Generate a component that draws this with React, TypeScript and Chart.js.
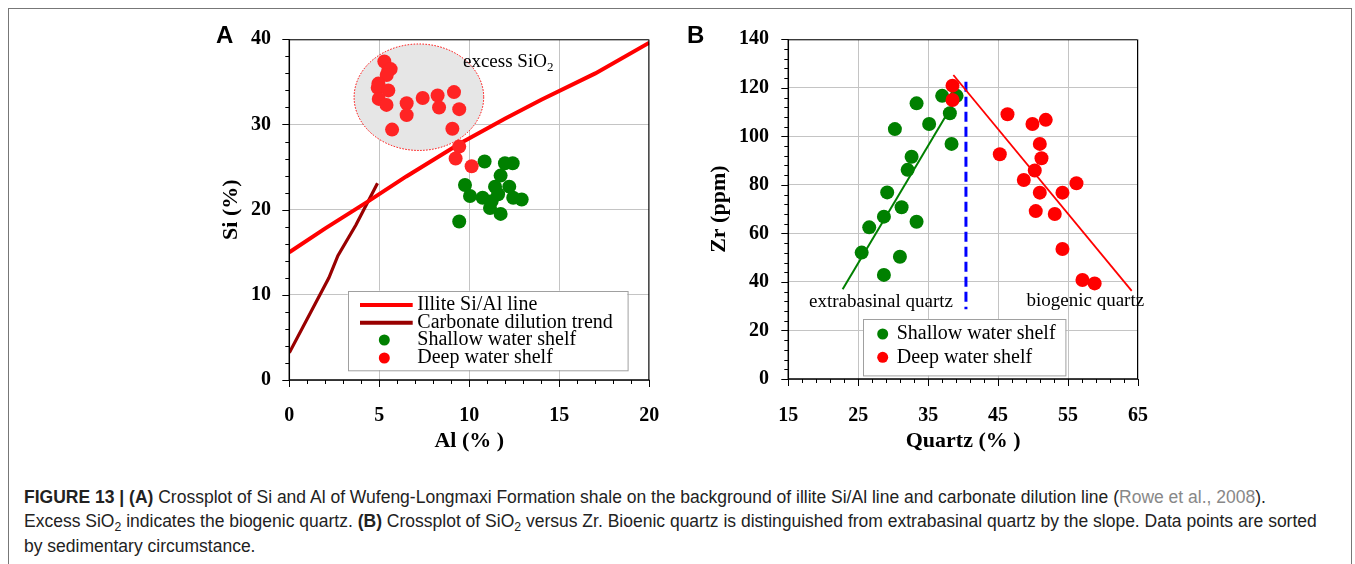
import React, { useEffect, useRef } from "react";
import { Chart, registerables } from "chart.js";
Chart.register(...registerables);

// ---------------- Panel A data (Al %, Si %) ----------------
const illiteAl = [0, 2, 4.4, 6.5, 9.5, 12, 14, 17, 20];
const illiteSi = [15.0, 17.8, 21.0, 23.9, 27.8, 30.7, 32.9, 36.0, 39.6];
const carbonateAl = [0, 2.2, 2.7, 3.7, 4.9];
const carbonateSi = [3.2, 12.0, 14.6, 18.2, 23.1];
const deepAlA = [5.28, 5.5, 5.63, 5.41, 4.95, 4.91, 5.5, 4.97, 5.4, 6.52, 6.52, 7.41, 8.24, 8.32, 9.15, 9.44, 5.71, 9.06, 9.44, 9.24, 10.13];
const deepSiA = [37.4, 36.4, 36.5, 35.8, 34.8, 34.3, 34.0, 33.0, 32.3, 32.5, 31.1, 33.1, 33.4, 32.0, 33.8, 31.8, 29.4, 29.5, 27.4, 26.0, 25.1];
const shallowAlA = [10.85, 11.98, 12.41, 11.74, 9.76, 11.43, 12.22, 10.04, 10.74, 11.24, 11.15, 12.44, 12.91, 11.74, 9.44, 11.6];
const shallowSiA = [25.65, 25.45, 25.45, 24.0, 22.9, 22.7, 22.7, 21.6, 21.4, 21.0, 20.2, 21.4, 21.2, 19.5, 18.6, 21.8];
const excessCenter = [7.2, 33.2]; // Al, Si
const excessRadius = [3.6, 6.25]; // Al, Si
const xTicksA = { min: 0, max: 20, step: 5, minor: 1 };
const yTicksA = { min: 0, max: 40, step: 10, minor: 2 };

// ---------------- Panel B data (Quartz %, Zr ppm) ----------------
const shallowQB = [25.49, 26.57, 28.67, 29.14, 30.96, 31.2, 32.06, 32.63, 33.34, 30.24, 33.34, 35.14, 37.0, 39.06, 38.1, 38.34, 28.67];
const shallowZrB = [52.1, 62.5, 66.9, 76.9, 50.4, 70.8, 86.2, 91.6, 64.8, 103.0, 113.6, 105.1, 116.7, 116.7, 109.5, 96.9, 42.9];
const deepQB = [38.48, 38.48, 46.34, 49.91, 51.81, 50.96, 45.24, 51.2, 50.24, 48.67, 50.96, 54.2, 56.2, 50.38, 53.1, 54.2, 57.06, 58.8];
const deepZrB = [120.9, 115.0, 109.1, 105.1, 106.8, 96.9, 92.6, 91.0, 85.9, 82.0, 76.8, 76.8, 80.7, 69.2, 68.0, 53.6, 40.8, 39.4];
const extraTrendQ = [22.77, 39.5];
const extraTrendZr = [37.0, 118.0];
const bioTrendQ = [38.6, 64.1];
const bioTrendZr = [125.3, 36.3];
const boundaryQ = [40.4, 40.4];
const boundaryZr = [122.5, 28.7];
const xTicksB = { min: 15, max: 65, step: 10, minor: 2 };
const yTicksB = { min: 0, max: 140, step: 20, minor: 4 };

const SERIF = "'Liberation Serif', 'Times New Roman', serif";
const SANS = "'Liberation Sans', Arial, sans-serif";
const RED = "#ff2424";
const GREEN = "#008000";

const zip = (xs: number[], ys: number[]) => xs.map((x, i) => ({ x, y: ys[i] }));

type Part = { t: string; sub?: boolean };
type Note = { x: number; y: number; parts: Part[] };
type LegendRow = { kind: "line" | "dot"; color: string; label: string };
type Panel = {
  letter: string;
  letterPos: [number, number];
  xr: { min: number; max: number; step: number; minor: number };
  yr: { min: number; max: number; step: number; minor: number };
  xTitle: string;
  yTitle: string;
  yAxisWidth: number;
  xAxisHeight: number;
  pad: { top: number; right: number; left: number; bottom: number };
  yTitlePad: number;
  xTitlePad: number;
  yTickPad: number;
  xTickPad: number;
  datasets: any[];
  legend: { dx: number; dy: number; w: number; h: number; markX: number; lineX0: number; lineX1: number; textX: number; rows: number[]; items: LegendRow[] };
  notes: Note[];
  ellipse?: { c: number[]; r: number[] };
};

function drawParts(ctx: CanvasRenderingContext2D, x: number, y: number, parts: Part[], size: number) {
  let cx = x;
  for (const p of parts) {
    if (p.sub) {
      ctx.font = `${Math.round(size * 0.68)}px ${SERIF}`;
      ctx.fillText(p.t, cx, y + size * 0.28);
    } else {
      ctx.font = `${size}px ${SERIF}`;
      ctx.fillText(p.t, cx, y);
    }
    cx += ctx.measureText(p.t).width;
  }
}

function decor(cfg: Panel) {
  return {
    id: "decor" + cfg.letter,
    beforeDatasetsDraw(chart: any) {
      if (!cfg.ellipse) return;
      const ctx = chart.ctx as CanvasRenderingContext2D;
      const xs = chart.scales.x;
      const ys = chart.scales.y;
      const cx = xs.getPixelForValue(cfg.ellipse.c[0]);
      const cy = ys.getPixelForValue(cfg.ellipse.c[1]);
      const rx = Math.abs(xs.getPixelForValue(cfg.ellipse.c[0] + cfg.ellipse.r[0]) - cx);
      const ry = Math.abs(ys.getPixelForValue(cfg.ellipse.c[1] + cfg.ellipse.r[1]) - cy);
      ctx.save();
      ctx.beginPath();
      ctx.ellipse(cx, cy, rx, ry, 0, 0, Math.PI * 2);
      ctx.fillStyle = "#e6e6e6";
      ctx.fill();
      ctx.setLineDash([1.5, 1.5]);
      ctx.strokeStyle = "#ff0000";
      ctx.lineWidth = 1;
      ctx.stroke();
      ctx.restore();
    },
    afterDraw(chart: any) {
      const ctx = chart.ctx as CanvasRenderingContext2D;
      const { left, right, top, bottom } = chart.chartArea;
      const xs = chart.scales.x;
      const ys = chart.scales.y;
      ctx.save();
      // frame
      ctx.strokeStyle = "#000";
      ctx.lineWidth = 1;
      ctx.beginPath();
      ctx.moveTo(left, top + 0.5);
      ctx.lineTo(right - 0.5, top + 0.5);
      ctx.lineTo(right - 0.5, bottom);
      ctx.stroke();
      ctx.lineWidth = 1.5;
      ctx.beginPath();
      ctx.moveTo(left, top);
      ctx.lineTo(left, bottom);
      ctx.lineTo(right, bottom);
      ctx.stroke();
      // tick marks
      ctx.lineWidth = 1;
      const isMajor = (v: number, base: number, step: number) => {
        const q = (v - base) / step;
        return Math.abs(q - Math.round(q)) < 1e-6;
      };
      for (let v = cfg.xr.min; v <= cfg.xr.max + 1e-9; v += cfg.xr.minor) {
        const px = Math.round(xs.getPixelForValue(v)) + 0.5;
        const len = isMajor(v, cfg.xr.min, cfg.xr.step) ? 7 : 4;
        ctx.beginPath();
        ctx.moveTo(px, bottom);
        ctx.lineTo(px, bottom + len);
        ctx.stroke();
      }
      for (let v = cfg.yr.min; v <= cfg.yr.max + 1e-9; v += cfg.yr.minor) {
        const py = Math.round(ys.getPixelForValue(v)) + 0.5;
        const len = isMajor(v, cfg.yr.min, cfg.yr.step) ? 7 : 4;
        ctx.beginPath();
        ctx.moveTo(left, py);
        ctx.lineTo(left - len, py);
        ctx.stroke();
      }
      // notes
      ctx.fillStyle = "#000";
      ctx.textBaseline = "middle";
      ctx.textAlign = "left";
      for (const n of cfg.notes) {
        drawParts(ctx, xs.getPixelForValue(n.x), ys.getPixelForValue(n.y), n.parts, 19);
      }
      // legend
      const L = cfg.legend;
      const bx = left + L.dx;
      const by = top + L.dy;
      ctx.fillStyle = "#fff";
      ctx.fillRect(bx, by, L.w, L.h);
      ctx.strokeStyle = "#a0a0a0";
      ctx.lineWidth = 1;
      ctx.strokeRect(Math.round(bx) + 0.5, Math.round(by) + 0.5, L.w, L.h);
      L.items.forEach((it, i) => {
        const ry = by + L.rows[i];
        if (it.kind === "line") {
          ctx.strokeStyle = it.color;
          ctx.lineWidth = 4;
          ctx.beginPath();
          ctx.moveTo(bx + L.lineX0, ry);
          ctx.lineTo(bx + L.lineX1, ry);
          ctx.stroke();
        } else {
          ctx.fillStyle = it.color;
          ctx.beginPath();
          ctx.arc(bx + L.markX, ry, 5.5, 0, Math.PI * 2);
          ctx.fill();
        }
        ctx.fillStyle = "#000";
        ctx.font = `20px ${SERIF}`;
        ctx.textBaseline = "middle";
        ctx.fillText(it.label, bx + L.textX, ry);
      });
      // panel letter
      ctx.fillStyle = "#000";
      ctx.textBaseline = "alphabetic";
      ctx.font = `bold 24px ${SANS}`;
      ctx.fillText(cfg.letter, cfg.letterPos[0], cfg.letterPos[1]);
      ctx.restore();
    },
  };
}

function buildChart(canvas: HTMLCanvasElement, cfg: Panel) {
  const tickFont = { family: SERIF, size: 20, weight: "bold" as const };
  const titleFont = { family: SERIF, size: 22, weight: "bold" as const };
  return new Chart(canvas, {
    type: "scatter",
    data: { datasets: cfg.datasets },
    options: {
      responsive: false,
      animation: false,
      events: [],
      layout: { padding: cfg.pad },
      plugins: { legend: { display: false }, tooltip: { enabled: false } },
      scales: {
        x: {
          type: "linear",
          min: cfg.xr.min,
          max: cfg.xr.max,
          ticks: { stepSize: cfg.xr.step, font: tickFont, color: "#000", padding: cfg.xTickPad, autoSkip: false, maxRotation: 0 },
          grid: { color: "#c4c4c4", lineWidth: 1, drawTicks: false },
          border: { display: false },
          title: { display: true, text: cfg.xTitle, font: titleFont, color: "#000", padding: { top: 0, bottom: cfg.xTitlePad } },
          afterFit: (s: any) => {
            s.height = cfg.xAxisHeight;
            s.paddingLeft = 0;
            s.paddingRight = 0;
          },
        },
        y: {
          type: "linear",
          min: cfg.yr.min,
          max: cfg.yr.max,
          ticks: { stepSize: cfg.yr.step, font: tickFont, color: "#000", padding: cfg.yTickPad, autoSkip: false },
          grid: { color: "#c4c4c4", lineWidth: 1, drawTicks: false },
          border: { display: false },
          title: { display: true, text: cfg.yTitle, font: titleFont, color: "#000", padding: { top: cfg.yTitlePad, bottom: 0 } },
          afterFit: (s: any) => {
            s.width = cfg.yAxisWidth;
            s.paddingTop = 0;
            s.paddingBottom = 0;
          },
        },
      },
    } as any,
    plugins: [decor(cfg)],
  });
}

const dot = (label: string, data: any[], color: string) => ({
  label,
  data,
  backgroundColor: color,
  borderWidth: 0,
  pointRadius: 7,
  pointHoverRadius: 7,
  showLine: false,
});
const line = (label: string, data: any[], color: string, width: number, dash: number[] = []) => ({
  label,
  data,
  borderColor: color,
  borderWidth: width,
  borderDash: dash,
  pointRadius: 0,
  showLine: true,
  fill: false,
  tension: 0,
});

const panelA: Panel = {
  letter: "A",
  letterPos: [26, 33],
  xr: xTicksA,
  yr: yTicksA,
  xTitle: "Al (% )",
  yTitle: "Si (%)",
  yAxisWidth: 99.3,
  xAxisHeight: 85,
  pad: { top: 29.3, right: 20.7, left: 0, bottom: 0 },
  yTitlePad: 27.8,
  xTitlePad: 10.8,
  yTickPad: 18.3,
  xTickPad: 24,
  datasets: [
    dot("Deep water shelf", zip(deepAlA, deepSiA), RED),
    dot("Shallow water shelf", zip(shallowAlA, shallowSiA), GREEN),
    line("Illite Si/Al line", zip(illiteAl, illiteSi), "#ff0000", 4),
    line("Carbonate dilution trend", zip(carbonateAl, carbonateSi), "#990000", 3.2),
  ],
  legend: {
    dx: 58.4,
    dy: 251.4,
    w: 279.6,
    h: 79.3,
    markX: 36.6,
    lineX0: 12.3,
    lineX1: 65,
    textX: 69.6,
    rows: [14.3, 32, 49.3, 67.3],
    items: [
      { kind: "line", color: "#ff0000", label: "Illite Si/Al line" },
      { kind: "line", color: "#990000", label: "Carbonate dilution trend" },
      { kind: "dot", color: GREEN, label: "Shallow water shelf" },
      { kind: "dot", color: "#ff0000", label: "Deep water shelf" },
    ],
  },
  notes: [{ x: 9.65, y: 37.3, parts: [{ t: "excess SiO" }, { t: "2", sub: true }] }],
  ellipse: { c: excessCenter, r: excessRadius },
};

const panelB: Panel = {
  letter: "B",
  letterPos: [7, 32.7],
  xr: xTicksB,
  yr: yTicksB,
  xTitle: "Quartz (% )",
  yTitle: "Zr (ppm)",
  yAxisWidth: 108.3,
  xAxisHeight: 86,
  pad: { top: 29.3, right: 22, left: 0, bottom: 0 },
  yTitlePad: 25.8,
  xTitlePad: 10.8,
  yTickPad: 19.3,
  xTickPad: 25,
  datasets: [
    dot("Deep water shelf", zip(deepQB, deepZrB), "#ff0000"),
    dot("Shallow water shelf", zip(shallowQB, shallowZrB), GREEN),
    line("Extrabasinal trend", zip(extraTrendQ, extraTrendZr), GREEN, 2),
    line("Biogenic trend", zip(bioTrendQ, bioTrendZr), "#ff0000", 1.8),
    line("Boundary", zip(boundaryQ, boundaryZr), "#0000ff", 3, [10, 5]),
  ],
  legend: {
    dx: 75,
    dy: 280,
    w: 202.4,
    h: 56.4,
    markX: 19.4,
    lineX0: 0,
    lineX1: 0,
    textX: 33.4,
    rows: [14.7, 38],
    items: [
      { kind: "dot", color: GREEN, label: "Shallow water shelf" },
      { kind: "dot", color: "#ff0000", label: "Deep water shelf" },
    ],
  },
  notes: [
    { x: 17.96, y: 31.9, parts: [{ t: "extrabasinal quartz" }] },
    { x: 49.06, y: 32.2, parts: [{ t: "biogenic quartz" }] },
  ],
};

function ChartCanvas({ cfg, left, top, width, height }: { cfg: Panel; left: number; top: number; width: number; height: number }) {
  const ref = useRef<HTMLCanvasElement | null>(null);
  useEffect(() => {
    if (!ref.current) return;
    const chart = buildChart(ref.current, cfg);
    return () => chart.destroy();
  }, [cfg]);
  return (
    <canvas
      ref={ref}
      width={width}
      height={height}
      style={{ position: "absolute", left, top, width, height, display: "block" }}
    />
  );
}

const sub = (t: string) => (
  <span style={{ fontSize: "0.7em", position: "relative", top: "0.3em", lineHeight: 0 }}>{t}</span>
);

export default function App() {
  return (
    <div style={{ position: "absolute", left: 0, top: 0, width: 1355, height: 564, overflow: "hidden", background: "#fff" }}>
      <div
        style={{
          position: "absolute",
          left: 8,
          top: 8,
          width: 1344,
          height: 620,
          border: "1px solid #777",
          boxSizing: "border-box",
        }}
      />
      <ChartCanvas cfg={panelA} left={190} top={10} width={480} height={455} />
      <ChartCanvas cfg={panelB} left={680} top={10} width={480} height={455} />
      <div
        style={{
          position: "absolute",
          left: 24,
          top: 484.7,
          font: `17.5px ${SANS}`,
          lineHeight: "24.5px",
          color: "#222",
          whiteSpace: "nowrap",
        }}
      >
        <b>FIGURE 13 | (A)</b> Crossplot of Si and Al of Wufeng-Longmaxi Formation shale on the background of illite Si/Al line and carbonate dilution line (
        <span style={{ color: "#888" }}>Rowe et al., 2008</span>).
        <br />
        Excess SiO{sub("2")} indicates the biogenic quartz. <b>(B)</b> Crossplot of SiO{sub("2")} versus Zr. Bioenic quartz is distinguished from extrabasinal quartz by the slope. Data points are sorted
        <br />
        by sedimentary circumstance.
      </div>
    </div>
  );
}
